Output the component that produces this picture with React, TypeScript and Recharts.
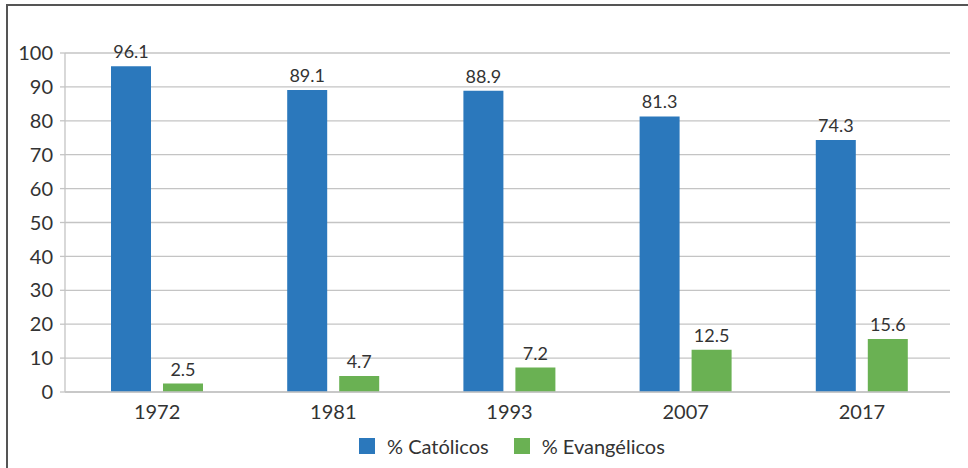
import { Bar, BarChart, CartesianGrid, LabelList, XAxis, YAxis } from "recharts";

const YEARS = ["1972", "1981", "1993", "2007", "2017"];
const CATOLICOS = [96.1, 89.1, 88.9, 81.3, 74.3];
const EVANGELICOS = [2.5, 4.7, 7.2, 12.5, 15.6];
const Y_TICKS = [0, 10, 20, 30, 40, 50, 60, 70, 80, 90, 100];

const SERIES = [
  { key: "catolicos", name: "% Católicos", color: "#2B78BC" },
  { key: "evangelicos", name: "% Evangélicos", color: "#6AB153" },
];

const data = YEARS.map((year, i) => ({
  year,
  catolicos: CATOLICOS[i],
  evangelicos: EVANGELICOS[i],
}));

const FONT = "Lato, 'Open Sans', sans-serif";
const TEXT = "#333333";
const GRID = "#c4c4c4";

export default function App() {
  return (
    <div style={{ position: "absolute", left: 0, top: 0, width: 968, height: 468, background: "#fff", overflow: "hidden", fontFamily: FONT }}>
      <div
        style={{
          position: "absolute",
          left: 6,
          top: 4,
          width: 980,
          height: 480,
          borderTop: "2px solid #555",
          borderLeft: "2px solid #555",
        }}
      />
      <div style={{ position: "absolute", left: 0, top: 0 }}>
        <BarChart
          width={968}
          height={468}
          data={data}
          margin={{ top: 53, right: 18, left: 0, bottom: 46 }}
          barSize={40}
          barGap={12}
        >
          <CartesianGrid vertical={false} stroke={GRID} strokeWidth={1.3} />
          <XAxis
            dataKey="year"
            height={30}
            padding={{ left: 4, right: 0 }}
            tickLine={false}
            axisLine={{ stroke: GRID, strokeWidth: 1.3 }}
            tick={{ fill: TEXT, fontSize: 20, fontFamily: FONT }}
            tickMargin={7}
          />
          <YAxis
            width={65}
            domain={[0, 100]}
            ticks={Y_TICKS}
            interval={0}
            tickSize={5}
            tickMargin={7}
            tickLine={{ stroke: GRID, strokeWidth: 1.3 }}
            axisLine={{ stroke: GRID, strokeWidth: 1.3 }}
            tick={{ fill: TEXT, fontSize: 20, fontFamily: FONT }}
          />
          {SERIES.map((s) => (
            <Bar key={s.key} dataKey={s.key} name={s.name} fill={s.color} isAnimationActive={false}>
              <LabelList dataKey={s.key} position="top" offset={8} fill={TEXT} fontSize={18} fontFamily={FONT} />
            </Bar>
          ))}
        </BarChart>
      </div>
      <div
        style={{
          position: "absolute",
          left: 359,
          top: 434,
          display: "flex",
          alignItems: "center",
          fontSize: 20,
          color: TEXT,
          whiteSpace: "nowrap",
        }}
      >
        {SERIES.map((s, i) => (
          <div key={s.key} style={{ display: "flex", alignItems: "center", marginLeft: i === 0 ? 0 : 25 }}>
            <span style={{ width: 16, height: 16, background: s.color, display: "inline-block", marginRight: 12 }} />
            <span>{s.name}</span>
          </div>
        ))}
      </div>
    </div>
  );
}
